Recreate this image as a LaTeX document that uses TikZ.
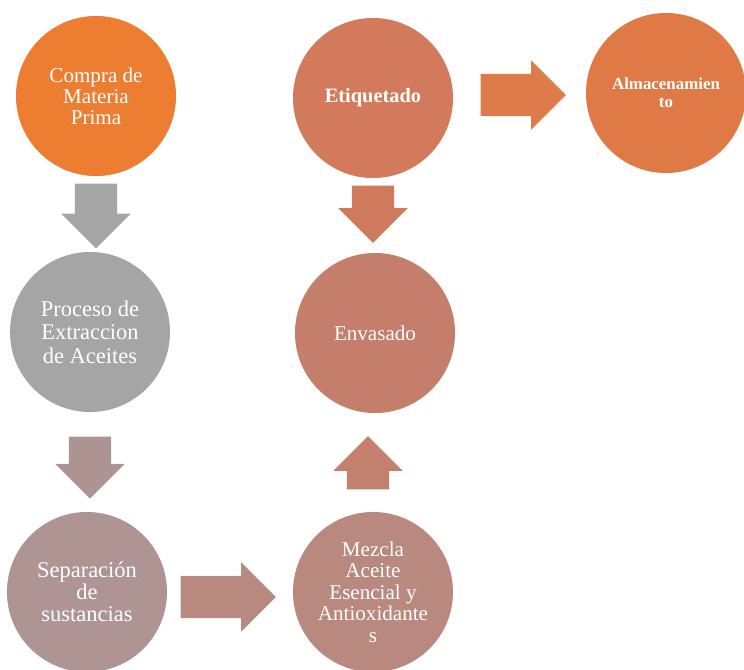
\documentclass[tikz,border=0pt]{standalone}
\usepackage{fontspec}
\setmainfont{Liberation Serif}
\usetikzlibrary{shapes.arrows,calc}

\definecolor{cCompra}{HTML}{ED7D31}
\definecolor{cGray}{HTML}{A5A5A5}
\definecolor{cArrowB}{HTML}{AD9492}
\definecolor{cSepara}{HTML}{AE9593}
\definecolor{cArrowC}{HTML}{B8897F}
\definecolor{cMezcla}{HTML}{B9887F}
\definecolor{cArrowD}{HTML}{C3806D}
\definecolor{cEnvasa}{HTML}{C47E6B}
\definecolor{cArrowE}{HTML}{CF7A5C}
\definecolor{cEtique}{HTML}{D27A5B}
\definecolor{cArrowF}{HTML}{DD7B4A}
\definecolor{cAlmace}{HTML}{DF7A47}

\tikzset{
  paso/.style={circle, fill=#1, text=white, align=center, minimum size=4cm, inner sep=0pt},
  flecha/.style={single arrow, fill=#1, draw=none, inner xsep=0pt, inner ysep=0.52cm,
    minimum width=0pt, single arrow head extend=0.34cm, single arrow tip angle=90,
    anchor=tail},
}

\begin{document}
\begin{tikzpicture}[x=0.025cm, y=-0.025cm]
                \useasboundingbox (0,0) rectangle (744,670);

                % Steps
                \node[paso=cCompra, font=\fontsize{15}{15}\selectfont] (compra) at (96,96) {Compra de\\Materia\\Prima};
                \node[paso=cGray, font=\fontsize{16}{16.6}\selectfont] (proceso) at (90,332) {Proceso de\\Extraccion\\de Aceites};
                \node[paso=cSepara, font=\fontsize{16}{15.5}\selectfont] (separa) at (87,592) {Separación\\de\\sustancias};
                \node[paso=cMezcla, font=\fontsize{15}{15.3}\selectfont] (mezcla) at (373,592) {Mezcla\\Aceite\\Esencial y\\Antioxidante\\s};
                \node[paso=cEnvasa, font=\fontsize{15}{15}\selectfont] (envasa) at (375,333) {Envasado};
                \node[paso=cEtique, font=\fontsize{14.5}{15}\bfseries] (etique) at (373,98) {Etiquetado};
                \node[paso=cAlmace, font=\fontsize{12}{13}\bfseries] (almace) at (666,93) {Almacenamien\\to};

                % Block arrows between steps
                \node[flecha=cGray, minimum height=1.62cm, rotate=-90] (f1) at ($(compra.south)+(0,7)$) {};
                \node[flecha=cArrowB, minimum height=1.55cm, rotate=-90] (f2) at ($(proceso.south)+(0,24)$) {};
                \node[flecha=cArrowC, minimum height=2.38cm] (f3) at ($(separa.east)+(13,5)$) {};
                \node[flecha=cArrowD, minimum height=1.33cm, rotate=90] (f4) at ($(mezcla.north)+(-5,-22)$) {};
                \node[flecha=cArrowE, minimum height=1.43cm, rotate=-90] (f5) at ($(etique.south)+(0,7)$) {};
                \node[flecha=cArrowF, minimum height=2.13cm] (f6) at ($(etique.east)+(27,-3)$) {};
            \end{tikzpicture}
\end{document}
